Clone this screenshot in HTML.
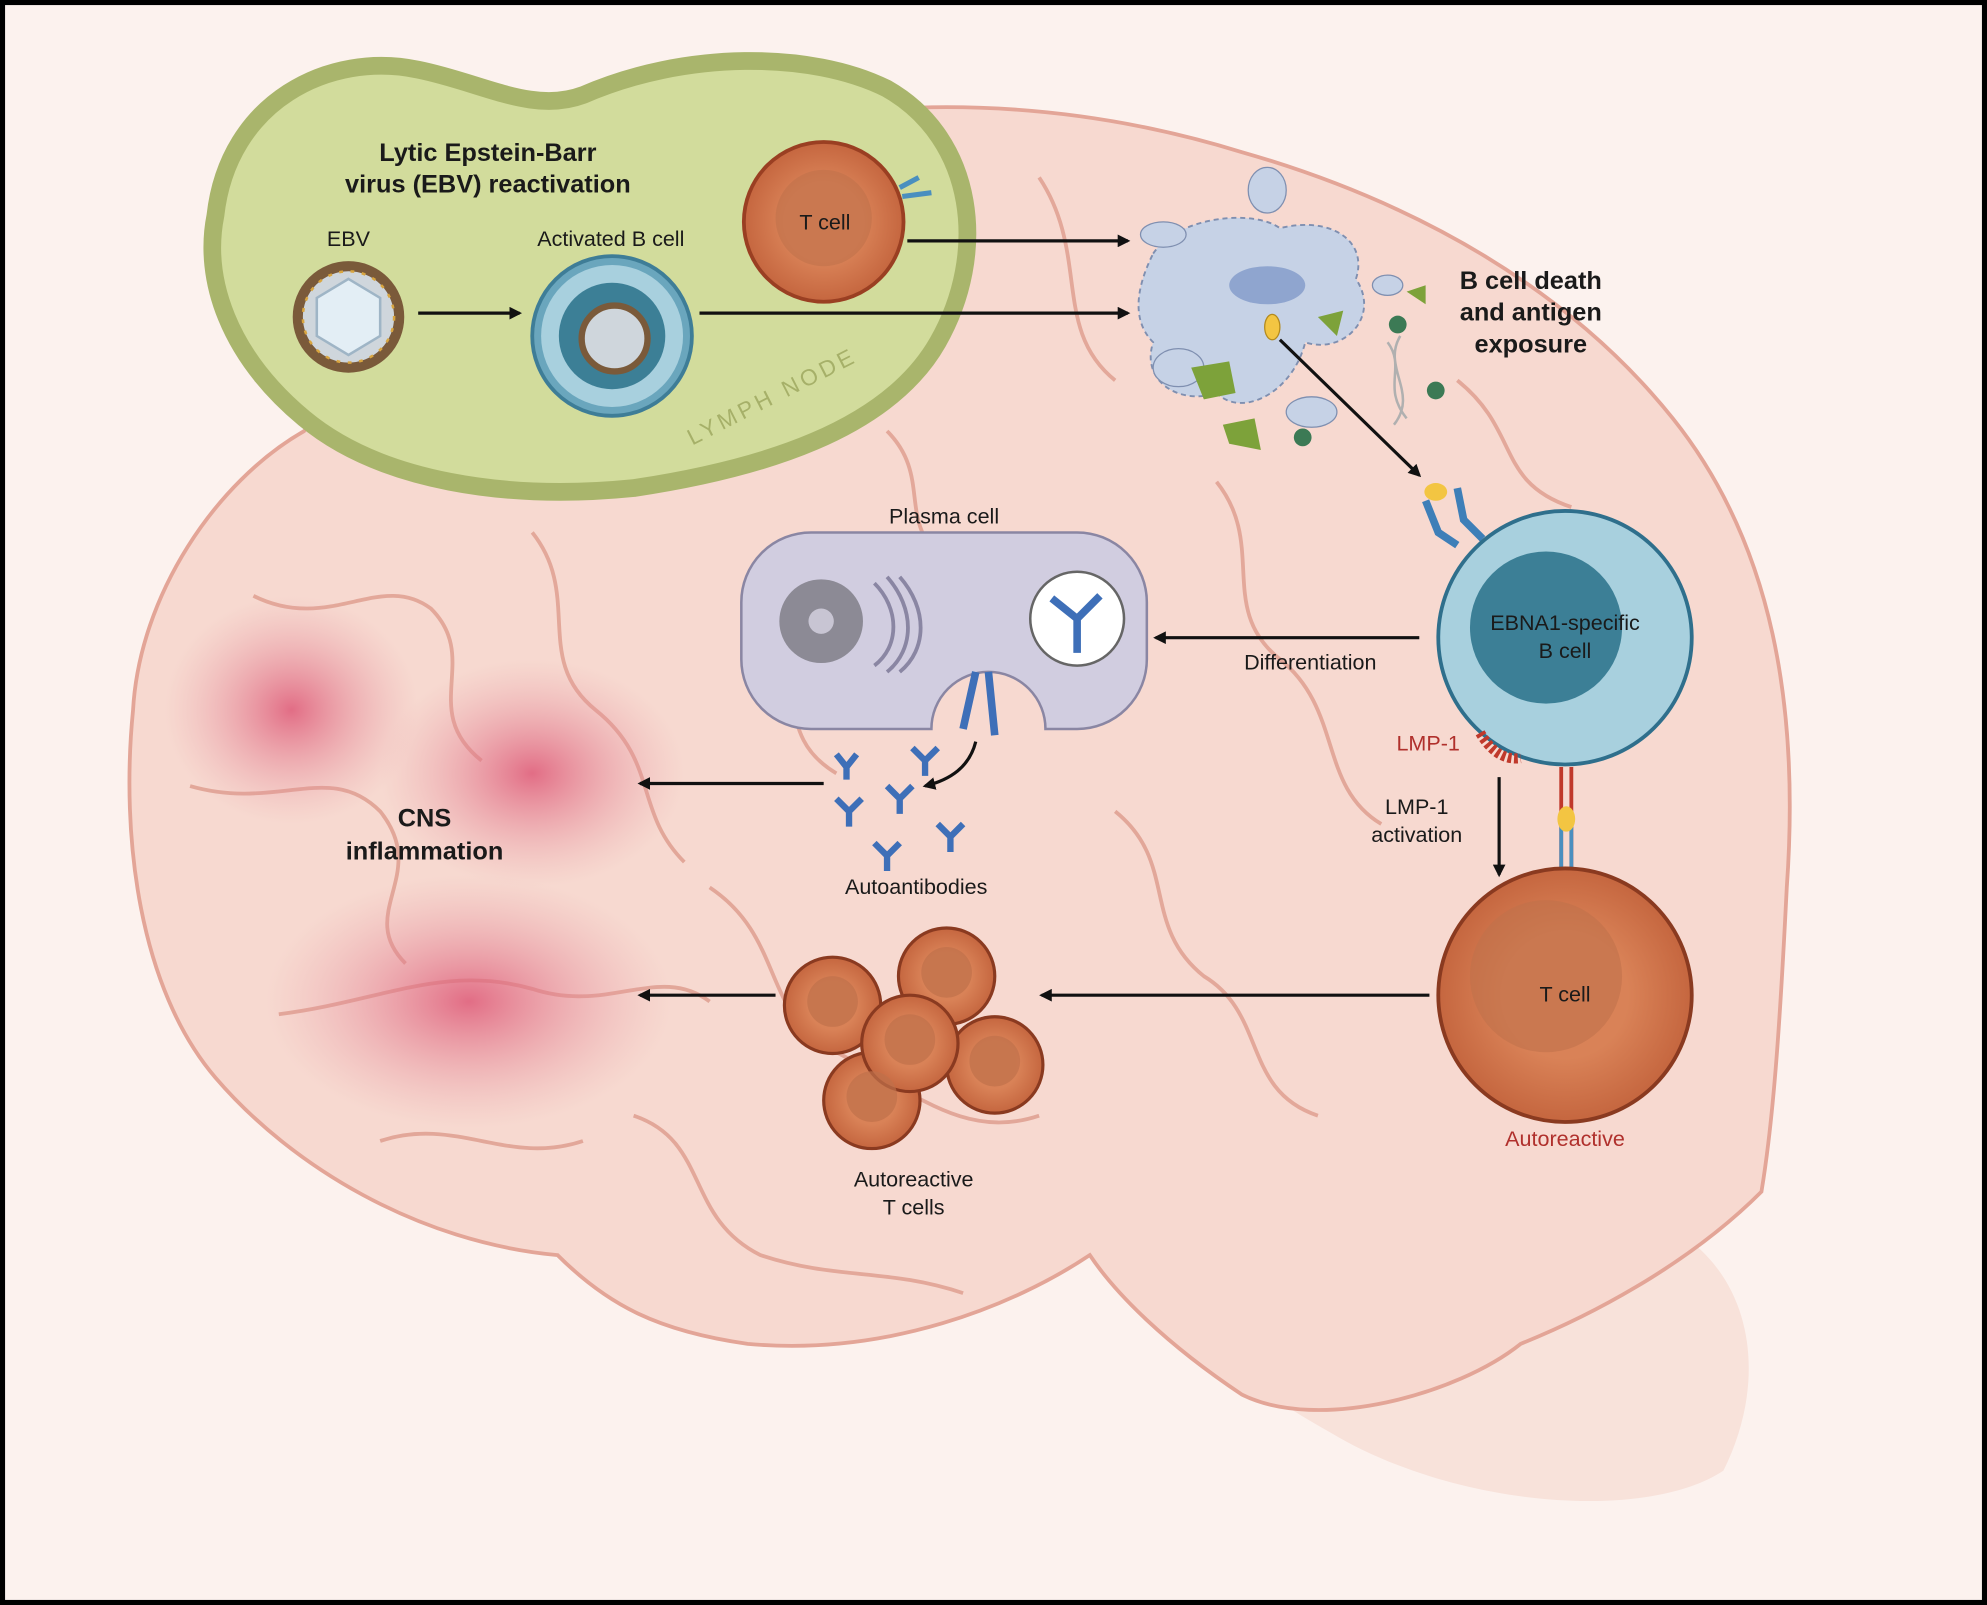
<!DOCTYPE html>
<html><head><meta charset="utf-8"><style>
html,body{margin:0;padding:0;background:#fff;}
svg{display:block;}
text{font-family:"Liberation Sans",sans-serif;fill:#1a1a1a;}
</style></head><body>
<svg width="1987" height="1605" viewBox="0 0 1568 1266" preserveAspectRatio="none" xmlns="http://www.w3.org/2000/svg">
<defs>
<radialGradient id="infl" cx="50%" cy="50%" r="50%"><stop offset="0" stop-color="#de5a78" stop-opacity="0.85"/><stop offset="1" stop-color="#e8a0a8" stop-opacity="0"/></radialGradient>
<marker id="ah" markerWidth="10" markerHeight="10" refX="8" refY="5" orient="auto" markerUnits="userSpaceOnUse"><path d="M0,0 L10,5 L0,10 z" fill="#111"/></marker>
<radialGradient id="tc" cx="50%" cy="50%" r="50%"><stop offset="0.5" stop-color="#d98257"/><stop offset="1" stop-color="#c5663f"/></radialGradient>
</defs>
<rect x="0" y="0" width="1568" height="1266" fill="#000"/>
<rect x="4" y="4" width="1560" height="1258" fill="#fcf2ee"/>
<path d="M870,960 C950,940 1100,930 1300,960 C1380,990 1400,1080 1360,1160 C1300,1200 1150,1190 1050,1130 C960,1080 900,1020 870,960 Z" fill="#f6ddd5" opacity="0.8"/>
<path d="M105,560 C110,470 170,380 240,340 C300,260 420,170 560,110 C700,70 850,80 980,120 C1120,160 1240,230 1320,330 C1400,430 1420,560 1410,700 C1405,800 1400,880 1390,940 C1330,1000 1250,1040 1200,1060 C1150,1100 1040,1130 980,1100 C920,1060 880,1020 860,990 C800,1030 700,1070 590,1060 C520,1050 480,1030 440,990 C330,980 230,920 170,850 C110,780 95,660 105,560 Z" fill="#f7d9d0" stroke="#e3a597" stroke-width="3"/>
<g fill="none" stroke="#e0a294" stroke-width="3" opacity="0.9">
<path d="M200,470 C260,500 300,450 340,480 C380,520 330,560 380,600"/>
<path d="M150,620 C220,640 260,600 300,640 C340,690 280,720 320,760"/>
<path d="M220,800 C300,790 350,760 420,780 C480,800 520,760 560,790"/>
<path d="M420,420 C460,470 420,520 470,560 C520,600 500,640 540,680"/>
<path d="M560,700 C620,740 600,800 660,830 C720,860 760,900 820,880"/>
<path d="M820,140 C860,200 830,260 880,300"/>
<path d="M700,340 C740,380 700,420 760,450"/>
<path d="M960,380 C1000,430 960,480 1010,520 C1060,560 1040,620 1090,650"/>
<path d="M880,640 C930,680 900,730 950,770 C1000,800 980,860 1040,880"/>
<path d="M500,880 C560,900 540,960 600,990 C660,1010 700,1000 760,1020"/>
<path d="M300,900 C360,880 400,920 460,900"/>
<path d="M1150,300 C1200,340 1180,380 1240,400"/>
<path d="M600,500 C640,540 610,580 660,610"/>
</g>
<ellipse cx="230" cy="560" rx="100" ry="90" fill="url(#infl)"/>
<ellipse cx="420" cy="610" rx="120" ry="90" fill="url(#infl)"/>
<ellipse cx="370" cy="790" rx="160" ry="100" fill="url(#infl)"/>
<path d="M170,170 C180,80 260,40 330,55 C380,65 420,90 460,75 C540,40 640,40 700,70 C770,110 780,200 740,270 C700,340 600,370 500,385 C400,395 300,380 240,330 C180,280 160,220 170,170 Z" fill="#d2dc9c" stroke="#a9b56c" stroke-width="14"/>
<text x="385" y="127" font-size="20" font-weight="bold" text-anchor="middle">Lytic Epstein-Barr</text>
<text x="385" y="152" font-size="20" font-weight="bold" text-anchor="middle">virus (EBV) reactivation</text>
<text x="275" y="194" font-size="17" text-anchor="middle">EBV</text>
<text x="482" y="194" font-size="17" text-anchor="middle">Activated B cell</text>
<text x="612" y="318" font-size="18" letter-spacing="3" transform="rotate(-27 612 318)" style="fill:#a6b069" text-anchor="middle">LYMPH NODE</text>
<circle cx="275" cy="250" r="40" fill="#cfd6dc" stroke="#7a5a3a" stroke-width="8"/>
<circle cx="275" cy="250" r="36" fill="none" stroke="#d9a640" stroke-width="2" stroke-dasharray="3 6"/>
<polygon points="275,220 300,235 300,265 275,280 250,265 250,235" fill="#e3eef5" stroke="#9fb5c6" stroke-width="2"/>
<circle cx="483" cy="265" r="63" fill="#6aa6bd" stroke="#3e7d97" stroke-width="3"/>
<circle cx="483" cy="265" r="56" fill="#a8d0de"/>
<circle cx="483" cy="265" r="42" fill="#3c7f96"/>
<circle cx="485" cy="267" r="26" fill="#cfd6dc" stroke="#7a5a3a" stroke-width="5"/>
<circle cx="650" cy="175" r="63" fill="url(#tc)" stroke="#9a3f22" stroke-width="3"/>
<circle cx="650" cy="172" r="38" fill="#c0714b" opacity="0.6"/>
<text x="651" y="181" font-size="17" text-anchor="middle">T cell</text>
<path d="M710,148 L725,140 M712,155 L735,152" stroke="#4a8fbf" stroke-width="4" fill="none"/>
<line x1="330" y1="247" x2="410" y2="247" stroke="#111" stroke-width="2.5" marker-end="url(#ah)"/>
<line x1="716" y1="190" x2="890" y2="190" stroke="#111" stroke-width="2.5" marker-end="url(#ah)"/>
<line x1="552" y1="247" x2="890" y2="247" stroke="#111" stroke-width="2.5" marker-end="url(#ah)"/>
<path d="M910,200 C930,170 990,165 1010,180 C1050,170 1080,190 1070,220 C1090,250 1060,280 1030,270 C1020,310 980,330 960,310 C930,320 900,300 910,270 C890,250 900,220 910,200 Z" fill="#c6d2e6" stroke="#7f8fb0" stroke-width="1.5" stroke-dasharray="4 3"/>
<ellipse cx="1000" cy="225" rx="30" ry="15" fill="#8fa5cf"/>
<ellipse cx="1000" cy="150" rx="15" ry="18" fill="#c6d2e6" stroke="#7f8fb0"/>
<ellipse cx="918" cy="185" rx="18" ry="10" fill="#c6d2e6" stroke="#7f8fb0"/>
<ellipse cx="930" cy="290" rx="20" ry="15" fill="#c6d2e6" stroke="#7f8fb0"/>
<ellipse cx="1035" cy="325" rx="20" ry="12" fill="#c6d2e6" stroke="#7f8fb0"/>
<ellipse cx="1095" cy="225" rx="12" ry="8" fill="#c6d2e6" stroke="#7f8fb0"/>
<circle cx="1103" cy="256" r="7" fill="#3c7a55"/><circle cx="1028" cy="345" r="7" fill="#3c7a55"/><circle cx="1133" cy="308" r="7" fill="#3c7a55"/>
<path d="M940,290 L970,285 L975,310 L950,315 Z M965,335 L990,330 L995,355 L970,350 Z M1110,230 L1125,225 L1125,240 Z M1040,250 L1060,245 L1055,265 Z" fill="#7da23a"/>
<path d="M1095,270 C1110,290 1090,305 1110,330 M1105,265 C1090,290 1120,310 1100,335" stroke="#b0b0b0" stroke-width="2" fill="none"/>
<ellipse cx="1004" cy="258" rx="6" ry="10" fill="#f3c542" stroke="#b38a1e"/>
<text x="1208" y="228" font-size="20" font-weight="bold" text-anchor="middle">B cell death</text>
<text x="1208" y="253" font-size="20" font-weight="bold" text-anchor="middle">and antigen</text>
<text x="1208" y="278" font-size="20" font-weight="bold" text-anchor="middle">exposure</text>
<line x1="1010" y1="268" x2="1120" y2="375" stroke="#111" stroke-width="2.5" marker-end="url(#ah)"/>
<path d="M1125,395 L1135,420 L1150,430 M1150,385 L1155,410 L1170,425" stroke="#3e7fb8" stroke-width="6" fill="none"/>
<ellipse cx="1133" cy="388" rx="9" ry="7" fill="#f3c542"/>
<circle cx="1235" cy="503" r="100" fill="#a8d0de" stroke="#2f6f8c" stroke-width="3"/>
<circle cx="1220" cy="495" r="60" fill="#3c7f96"/>
<text x="1235" y="497" font-size="17" text-anchor="middle">EBNA1-specific</text>
<text x="1235" y="519" font-size="17" text-anchor="middle">B cell</text>
<text x="1127" y="592" font-size="17" style="fill:#b0302c" text-anchor="middle">LMP-1</text>
<path d="M1168,578 C1175,590 1185,600 1200,598" stroke="#c0392b" stroke-width="8" fill="none" stroke-dasharray="3 2"/>
<line x1="1183" y1="613" x2="1183" y2="690" stroke="#111" stroke-width="2.5" marker-end="url(#ah)"/>
<text x="1118" y="642" font-size="17" text-anchor="middle">LMP-1</text>
<text x="1118" y="664" font-size="17" text-anchor="middle">activation</text>
<path d="M1232,605 L1232,690 M1240,605 L1240,690" stroke="#c0392b" stroke-width="3"/>
<path d="M1232,650 L1232,690 M1240,650 L1240,690" stroke="#4a8fbf" stroke-width="3"/>
<ellipse cx="1236" cy="646" rx="7" ry="10" fill="#f3c542"/>
<circle cx="1235" cy="785" r="100" fill="url(#tc)" stroke="#8a3a20" stroke-width="3"/>
<circle cx="1220" cy="770" r="60" fill="#c0714b" opacity="0.6"/>
<text x="1235" y="790" font-size="17" text-anchor="middle">T cell</text>
<text x="1235" y="904" font-size="17" style="fill:#b0302c" text-anchor="middle">Autoreactive</text>
<line x1="1128" y1="785" x2="822" y2="785" stroke="#111" stroke-width="2.5" marker-end="url(#ah)"/>
<path d="M640,420 L850,420 A55,55 0 0 1 905,475 L905,520 A55,55 0 0 1 850,575 L825,575 A45,45 0 0 0 735,575 L640,575 A55,55 0 0 1 585,520 L585,475 A55,55 0 0 1 640,420 Z" fill="#d1cde0" stroke="#8a86a3" stroke-width="2"/>
<circle cx="648" cy="490" r="33" fill="#8c8a95"/>
<circle cx="648" cy="490" r="10" fill="#c8c5d3"/>
<path d="M690,460 C710,480 710,510 690,525 M700,455 C722,480 722,512 700,530 M710,455 C732,480 732,512 710,530" stroke="#8a86a3" stroke-width="3" fill="none"/>
<circle cx="850" cy="488" r="37" fill="#fff" stroke="#666" stroke-width="2"/>
<path d="M850,488 L850,515 M850,488 L830,472 M850,488 L868,470" stroke="#3e6fb8" stroke-width="6"/>
<path d="M770,530 L760,575 M780,530 L785,580" stroke="#3e6fb8" stroke-width="6"/>
<text x="745" y="413" font-size="17" text-anchor="middle">Plasma cell</text>
<line x1="1120" y1="503" x2="912" y2="503" stroke="#111" stroke-width="2.5" marker-end="url(#ah)"/>
<text x="1034" y="528" font-size="17" text-anchor="middle">Differentiation</text>
<path d="M770,585 C765,605 750,615 730,620" stroke="#111" stroke-width="2.5" fill="none" marker-end="url(#ah)"/>
<g stroke="#3e6fb8" stroke-width="5" fill="none">
<path d="M660,595 L668,605 L676,595 M668,605 L668,615"/>
<path d="M720,590 L730,600 L740,590 M730,600 L730,612"/>
<path d="M660,630 L670,640 L680,630 M670,640 L670,652"/>
<path d="M700,620 L710,630 L720,620 M710,630 L710,642"/>
<path d="M740,650 L750,660 L760,650 M750,660 L750,672"/>
<path d="M690,665 L700,675 L710,665 M700,675 L700,687"/>
</g>
<text x="723" y="705" font-size="17" text-anchor="middle">Autoantibodies</text>
<line x1="650" y1="618" x2="505" y2="618" stroke="#111" stroke-width="2.5" marker-end="url(#ah)"/>
<text x="335" y="652" font-size="20" font-weight="bold" text-anchor="middle">CNS</text>
<text x="335" y="678" font-size="20" font-weight="bold" text-anchor="middle">inflammation</text>
<g stroke="#8a3a20" stroke-width="2.5">
<circle cx="657" cy="793" r="38" fill="url(#tc)"/>
<circle cx="747" cy="770" r="38" fill="url(#tc)"/>
<circle cx="688" cy="868" r="38" fill="url(#tc)"/>
<circle cx="785" cy="840" r="38" fill="url(#tc)"/>
<circle cx="718" cy="823" r="38" fill="url(#tc)"/>
</g>
<g fill="#c0714b" opacity="0.7"><circle cx="657" cy="790" r="20"/><circle cx="747" cy="767" r="20"/><circle cx="688" cy="865" r="20"/><circle cx="785" cy="837" r="20"/><circle cx="718" cy="820" r="20"/></g>
<line x1="612" y1="785" x2="505" y2="785" stroke="#111" stroke-width="2.5" marker-end="url(#ah)"/>
<text x="721" y="936" font-size="17" text-anchor="middle">Autoreactive</text>
<text x="721" y="958" font-size="17" text-anchor="middle">T cells</text>
</svg>
</body></html>
